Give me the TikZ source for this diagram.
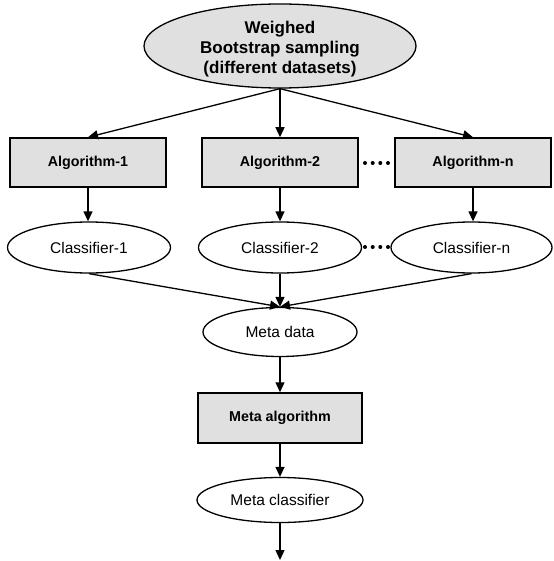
\documentclass[tikz,border=0pt]{standalone}
\usepackage{fontspec}
\setmainfont{Liberation Sans}
\usetikzlibrary{shapes.geometric,arrows.meta}
\begin{document}
\begin{tikzpicture}[x=1pt,y=-1pt,
  every node/.style={font=\fontsize{15.5}{18}\selectfont},
  ell/.style={draw, ellipse, line width=1.3pt, inner sep=0pt, fill=white},
  box/.style={draw, rectangle, line width=1.5pt, fill=black!12, inner sep=0pt, font=\bfseries\fontsize{14.3}{17}\selectfont},
  arr/.style={line width=1.3pt, -{Triangle[length=10pt,width=9pt]}},
  dotn/.style={circle, fill=black, inner sep=0pt, minimum size=4pt}]
\useasboundingbox (0,0) rectangle (553,561);
% top
\node[ell, fill=black!12, minimum width=272pt, minimum height=84pt] (top) at (280,46) {};
\node[align=center, font=\bfseries\fontsize{17}{20}\selectfont] (toptext) at (280,49) {Weighed\\Bootstrap sampling\\(different datasets)};
% algorithms
\node[box, minimum width=156pt, minimum height=49pt] (a1) at (88,162.5) {Algorithm-1};
\node[box, minimum width=156pt, minimum height=49pt] (a2) at (280,162.5) {Algorithm-2};
\node[box, minimum width=156pt, minimum height=49pt] (an) at (473,162.5) {Algorithm-n};
% classifiers
\node[ell, minimum width=163pt, minimum height=51pt] (c1) at (89,247.5) {Classifier-1};
\node[ell, minimum width=163pt, minimum height=51pt] (c2) at (280,247.5) {Classifier-2};
\node[ell, minimum width=161pt, minimum height=51pt] (cn) at (471.5,247.5) {Classifier-n};
% meta
\node[ell, minimum width=154pt, minimum height=49pt] (md) at (280,332) {Meta data};
\node[box, minimum width=164pt, minimum height=50pt] (ma) at (280,418) {Meta algorithm};
\node[ell, minimum width=166pt, minimum height=45pt] (mc) at (280,500) {Meta classifier};
\coordinate (out) at (280,560);
% dots
\foreach \i/\x in {1/365,2/372.7,3/380.3,4/388}{
  \node[dotn] (da\i) at (\x,163) {};
  \node[dotn] (dc\i) at (\x,247) {};
}
% arrows
\draw[arr] (top.south) -- (a1.north);
\draw[arr] (top.south) -- (a2.north);
\draw[arr] (top.south) -- (an.north);
\draw[arr] (a1.south) -- (a1.south |- c1.north);
\draw[arr] (a2.south) -- (c2.north);
\draw[arr] (an.south) -- (an.south |- cn.north);
\draw[arr] (c1.south) -- (md.north);
\draw[arr] (c2.south) -- (md.north);
\draw[arr] (cn.south) -- (md.north);
\draw[arr] (md.south) -- (ma.north);
\draw[arr] (ma.south) -- (mc.north);
\draw[arr] (mc.south) -- (out);
\end{tikzpicture}
\end{document}
